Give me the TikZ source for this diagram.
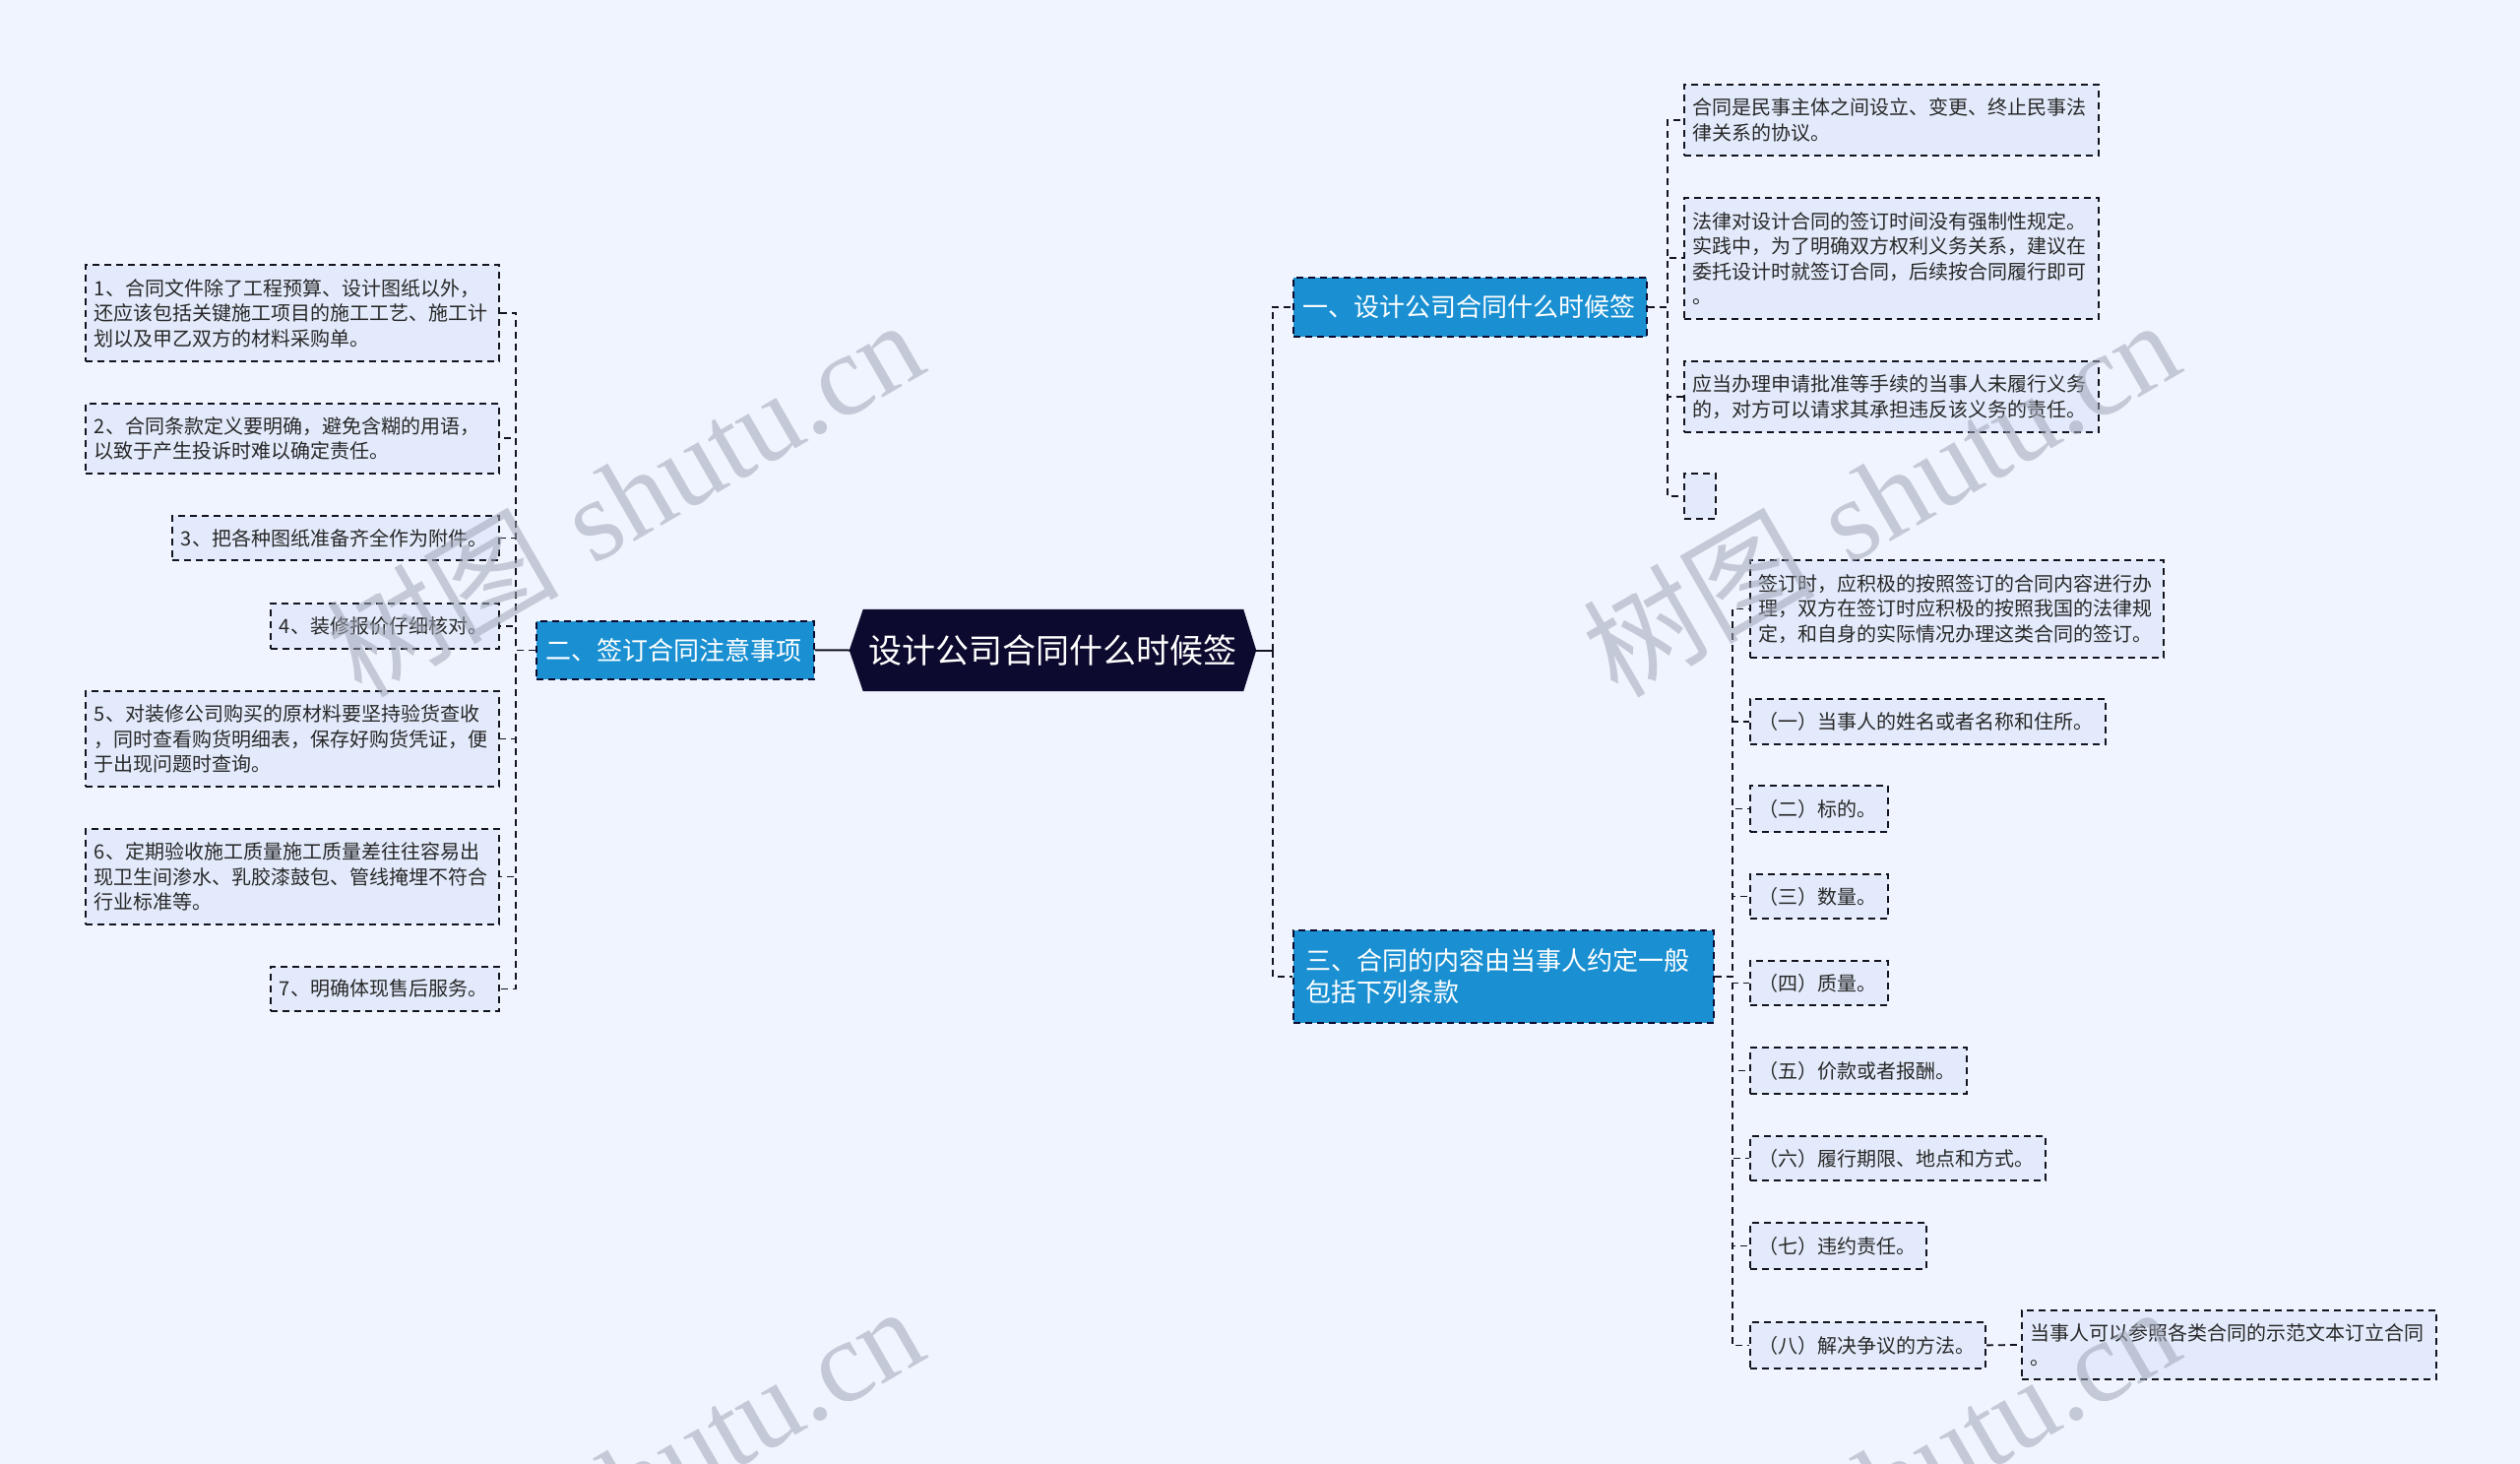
\documentclass[tikz,border=0pt]{standalone}
\usepackage{fontspec}
\newfontfamily\cjk{Noto Sans CJK SC}
\newfontfamily\wmserif{Liberation Serif}
\usetikzlibrary{calc}
\definecolor{bgc}{RGB}{239,244,254}
\definecolor{leafc}{RGB}{226,234,251}
\definecolor{bluec}{RGB}{26,144,210}
\definecolor{rootc}{RGB}{12,10,46}
\definecolor{linec}{RGB}{20,20,30}
\definecolor{textc}{RGB}{40,40,40}
\definecolor{wmc}{RGB}{160,166,182}
\pgfdeclarelayer{bg}
\pgfsetlayers{bg,main}
\begin{document}
\begin{tikzpicture}[x=1pt,y=-1pt,
  leafbox/.style={draw=linec, line width=1.8pt, dash pattern=on 7pt off 5pt, fill=leafc, anchor=north west, inner xsep=9pt, inner ysep=2pt, align=left, text=textc, font=\cjk\fontsize{20pt}{25.5pt}\selectfont},
  bluebox/.style={draw=rootc, line width=1.8pt, dash pattern=on 7pt off 5pt, fill=bluec, anchor=north west, inner ysep=2pt, align=left, text=white, font=\cjk\fontsize{26pt}{32pt}\selectfont},
  conn/.style={draw=linec, line width=1.8pt, dash pattern=on 7pt off 5pt},
  rootline/.style={draw=linec, line width=2pt},
  wm/.style={text=wmc, opacity=0.55, inner sep=0pt, anchor=base east, rotate=30, font=\fontsize{118pt}{118pt}\selectfont}]
\begin{pgfonlayer}{bg}
\fill[bgc] (0,0) rectangle (2560,1487);
\end{pgfonlayer}
\useasboundingbox (0,0) rectangle (2560,1487);

% root
\node[text=white, font=\cjk\fontsize{34pt}{40pt}\selectfont, minimum width=413pt, minimum height=83pt, inner sep=0pt] (root) at (1069.5,660.5) {设计公司合同什么时候签};
\begin{pgfonlayer}{bg}
\fill[rootc] (root.west) -- ([xshift=14pt]root.north west) -- ([xshift=-13pt]root.north east) -- (root.east) -- ([xshift=-13pt]root.south east) -- ([xshift=14pt]root.south west) -- cycle;
\end{pgfonlayer}

% branches
\node[bluebox, minimum height=60pt, text width=339pt, inner xsep=10pt] (b1) at (1313,281) {一、设计公司合同什么时候签};
\node[bluebox, minimum height=59pt, text width=262pt, inner xsep=10pt] (b2) at (544,630) {二、签订合同注意事项};
\node[bluebox, minimum height=94pt, text width=401pt, inner xsep=13pt] (b3) at (1313,944) {三、合同的内容由当事人约定一般\\包括下列条款};

% left leaves
\node[leafbox, text width=402pt, minimum height=98pt] (L1) at (86,268) {1、合同文件除了工程预算、设计图纸以外，\\还应该包括关键施工项目的施工工艺、施工计\\划以及甲乙双方的材料采购单。};
\node[leafbox, text width=402pt, minimum height=71pt] (L2) at (86,409) {2、合同条款定义要明确，避免含糊的用语，\\以致于产生投诉时难以确定责任。};
\node[leafbox, text width=314pt, minimum height=45pt] (L3) at (174,523) {3、把各种图纸准备齐全作为附件。};
\node[leafbox, text width=214pt, minimum height=46pt] (L4) at (274,612) {4、装修报价仔细核对。};
\node[leafbox, text width=402pt, minimum height=97pt] (L5) at (86,701) {5、对装修公司购买的原材料要坚持验货查收\\，同时查看购货明细表，保存好购货凭证，便\\于出现问题时查询。};
\node[leafbox, text width=402pt, minimum height=97pt] (L6) at (86,841) {6、定期验收施工质量施工质量差往往容易出\\现卫生间渗水、乳胶漆鼓包、管线掩埋不符合\\行业标准等。};
\node[leafbox, text width=214pt, minimum height=45pt] (L7) at (274,981) {7、明确体现售后服务。};

% right leaves of branch 1
\node[leafbox, text width=403pt, minimum height=72pt] (R1) at (1710,85) {合同是民事主体之间设立、变更、终止民事法\\律关系的协议。};
\node[leafbox, text width=403pt, minimum height=123pt] (R2) at (1710,200) {法律对设计合同的签订时间没有强制性规定。\\实践中，为了明确双方权利义务关系，建议在\\委托设计时就签订合同，后续按合同履行即可\\。};
\node[leafbox, text width=403pt, minimum height=72pt] (R3) at (1710,366) {应当办理申请批准等手续的当事人未履行义务\\的，对方可以请求其承担违反该义务的责任。};
\node[leafbox, text width=14pt, minimum height=46pt] (R4) at (1710,480) {};

% leaves of branch 3
\node[leafbox, text width=402pt, minimum height=99pt] (S0) at (1777,568) {签订时，应积极的按照签订的合同内容进行办\\理，双方在签订时应积极的按照我国的法律规\\定，和自身的实际情况办理这类合同的签订。};
\node[leafbox, text width=343pt, minimum height=46pt] (S1) at (1777,709) {（一）当事人的姓名或者名称和住所。};
\node[leafbox, text width=122pt, minimum height=47pt] (S2) at (1777,797) {（二）标的。};
\node[leafbox, text width=122pt, minimum height=45pt] (S3) at (1777,887) {（三）数量。};
\node[leafbox, text width=122pt, minimum height=45pt] (S4) at (1777,975) {（四）质量。};
\node[leafbox, text width=202pt, minimum height=47pt] (S5) at (1777,1063) {（五）价款或者报酬。};
\node[leafbox, text width=282pt, minimum height=45pt] (S6) at (1777,1153) {（六）履行期限、地点和方式。};
\node[leafbox, text width=161pt, minimum height=47pt] (S7) at (1777,1241) {（七）违约责任。};
\node[leafbox, text width=221pt, minimum height=47pt] (S8) at (1777,1342) {（八）解决争议的方法。};
\node[leafbox, text width=403pt, minimum height=70pt] (T) at (2053,1330) {当事人可以参照各类合同的示范文本订立合同\\。};

% connectors
\draw[rootline] (root.west) -- (b2.east);
\coordinate (jr) at (1293,660.5);
\draw[rootline] (root.east) -- (jr);
\draw[conn] (jr) |- (b1.west);
\draw[conn] (jr) |- (b3.west);
\foreach \i in {1,...,7} \draw[conn] (b2.west) -- ++(-20,0) |- (L\i.east);
\foreach \i in {1,...,4} \draw[conn] (b1.east) -- ++(20,0) |- (R\i.west);
\foreach \i in {0,...,8} \draw[conn] (b3.east) -- ++(18,0) |- (S\i.west);
\draw[conn] (S8.east) -- (T.west);

% watermarks
\node[wm] (wm1) at (946,376) {{\cjk 树图}\hspace{0.3em}{\wmserif shutu.cn}};
\node[wm] (wm2) at (2222,376) {{\cjk 树图}\hspace{0.3em}{\wmserif shutu.cn}};
\node[wm] (wm3) at (946,1378) {{\cjk 树图}\hspace{0.3em}{\wmserif shutu.cn}};
\node[wm] (wm4) at (2222,1378) {{\cjk 树图}\hspace{0.3em}{\wmserif shutu.cn}};
\end{tikzpicture}
\end{document}
